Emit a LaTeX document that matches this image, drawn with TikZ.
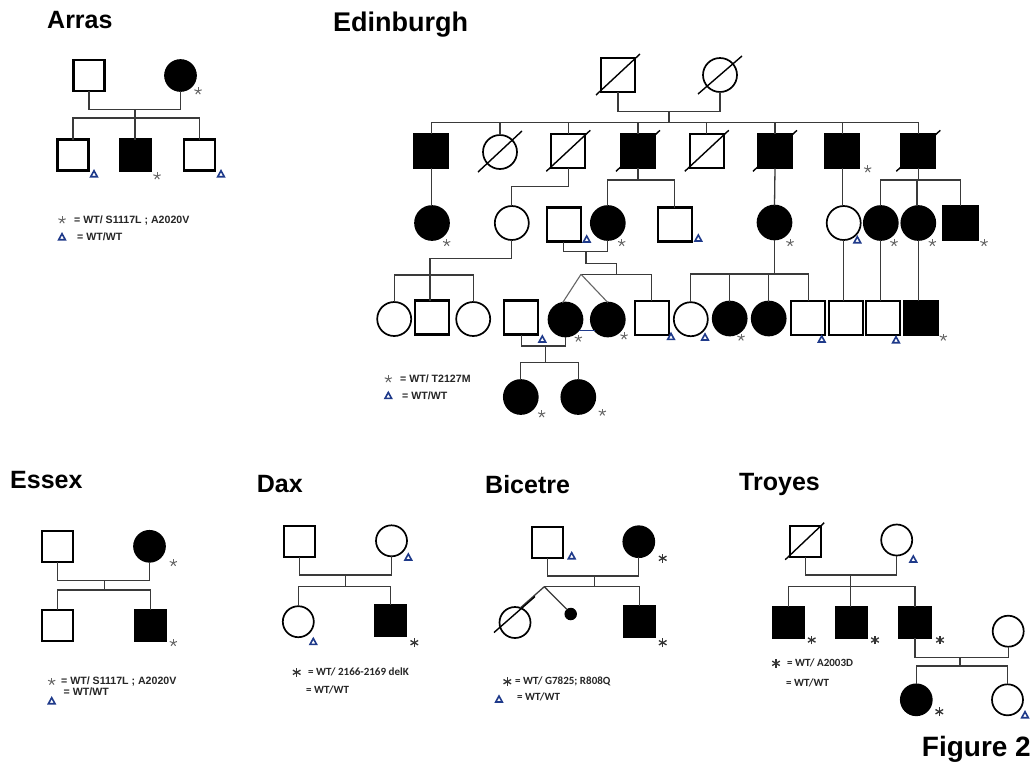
\documentclass[tikz,border=0pt]{standalone}
\usepackage{fontspec}
\setmainfont{Liberation Sans}
\newfontfamily\calfont{Carlito}
\usetikzlibrary{calc}
\definecolor{navy}{HTML}{1F3A8A}
\definecolor{connc}{HTML}{3A3A3A}
\begin{document}
\begin{tikzpicture}[x=1pt,y=-1pt,
  sq/.style={rectangle, draw=black, line width=2.3pt, minimum size=31pt, inner sep=0pt, outer sep=0pt},
  ci/.style={circle, draw=black, line width=1.7pt, minimum size=31pt, inner sep=0pt, outer sep=0pt},
  aff/.style={fill=black},
  big/.style={minimum size=34pt},
  ln/.style={draw=connc, line width=1.3pt},
  slash/.style={draw=black, line width=1.4pt},
  twin/.style={draw=black!60, line width=1.1pt},
  title/.style={font=\fontsize{25}{30}\selectfont\bfseries, anchor=base west, inner sep=0pt},
  leg/.style={font=\fontsize{10.6}{12}\selectfont\bfseries, anchor=west, inner sep=0pt, text=black!85},
  legc/.style={font=\calfont\fontsize{11}{13}\selectfont\bfseries, anchor=west, inner sep=0pt, text=black!85},
  tri/.pic={\draw[navy, line width=1.6pt, line join=miter] (-3.3,2.7) -- (3.3,2.7) -- (0,-3.3) -- cycle;},
  ast/.pic={\foreach \a in {-90,-18,54,126,198}{\draw[black!60, line width=1pt] (0,0) -- (\a:3.8);}},
  astb/.pic={\foreach \a in {90,30,150}{\draw[black!80, line width=1.3pt] (\a:4.4) -- (\a+180:4.4);}},
]
\fill[white] (0,0) rectangle (1031,772);
\useasboundingbox (0,0) rectangle (1031,772);

% ================= Arras =================
\node[title] (tA) at (47,28) {Arras};
\node[sq] (a1) at (89,75.5) {};
\node[ci,aff] (a2) at (180.5,75.5) {};
\coordinate (am) at (135,109.5);
\coordinate (as) at (135,118);
\node[sq] (a3) at (73,155) {};
\node[sq,aff] (a4) at (135.5,155) {};
\node[sq] (a5) at (199.5,155) {};
\draw[ln] (a1.south) |- (am) -| (a2.south);
\draw[ln] (am) -- (as);
\draw[ln] (a3.north) |- (as) -| (a5.north);
\draw[ln] (as) -- (as |- a4.north);
\pic at (198,91) {ast};
\pic at (94,174) {tri};
\pic at (157,176) {ast};
\pic at (221,174) {tri};
\pic at (62,220) {ast};
\node[leg] (la1) at (74,220) {= WT/ S1117L ; A2020V};
\pic at (62,237) {tri};
\node[leg] (la2) at (77,237) {= WT/WT};

% ================= Edinburgh =================
\node[title, font=\fontsize{27}{32}\selectfont\bfseries] (tE) at (333,31) {Edinburgh};
\node[sq,big] (e1) at (618,75) {};
\node[ci,big] (e2) at (720,75) {};
\draw[slash] ($(e1)+(-22,20)$) -- ($(e1)+(22,-21)$);
\draw[slash] ($(e2)+(-22,19)$) -- ($(e2)+(22,-19)$);
\coordinate (em) at (669,111.7);
\coordinate (es) at (669,122.7);
\draw[ln] (e1.south) |- (em) -| (e2.south);
\draw[ln] (em) -- (es);

% generation 2
\node[sq,big,aff] (g1) at (431.3,151.3) {};
\node[ci,big] (g2) at (500,152) {};
\node[sq,big] (g3) at (568.3,151.3) {};
\node[sq,big,aff] (g4) at (638,151.3) {};
\node[sq,big] (g5) at (706.8,151.3) {};
\node[sq,big,aff] (g6) at (775,151.3) {};
\node[sq,big,aff] (g7) at (842.3,151.3) {};
\node[sq,big,aff] (g8) at (918.3,151.3) {};
\foreach \n in {g2,g3,g4,g5,g6,g8}{\draw[slash] ($(\n)+(-22,20)$) -- ($(\n)+(22,-21)$);}
\draw[ln] (g1.north) |- (es) -| (g8.north);
\foreach \n in {g2,g3,g4,g5,g6,g7}{\draw[ln] (\n.north) -- (\n.north |- es);}
\pic at (867.7,169) {ast};

% generation 3
\node[ci,big,aff] (h1) at (432,223) {};
\node[ci,big] (h2) at (511.8,223) {};
\node[sq,big] (h3) at (563.8,224.5) {};
\node[ci,big,aff] (h4) at (607.8,223) {};
\node[sq,big] (h5) at (674.8,224.5) {};
\node[ci,big,aff] (h6) at (774.5,222.5) {};
\node[ci,big] (h7) at (843.7,223) {};
\node[ci,big,aff] (h8) at (880.8,223) {};
\node[ci,big,aff] (h9) at (918.3,223) {};
\node[sq,big,aff] (h10) at (960.5,222.7) {};
\draw[ln] (g1.south) -- (g1.south |- h1.north);
\coordinate (k1) at (511.8,186.7);
\draw[ln] (g3.south) |- (k1) -- (h2.north);
\coordinate (k2) at (638,180);
\draw[ln] (g4.south) -- (k2);
\draw[ln] (h4.north) |- (k2) -| (h5.north);
\draw[ln] (g6.south) -- (h6.north);
\draw[ln] (g7.south) -- (g7.south |- h7.north);
\coordinate (k3) at (917,180);
\draw[ln] (g8.south) -- (g8.south |- k3);
\draw[ln] (h8.north) |- (k3) -| (h10.north);
\draw[ln] (k3) -- (k3 |- h9.north);
\pic at (446.7,242.7) {ast};
\pic at (586.7,239.3) {tri};
\pic at (621.7,242.7) {ast};
\pic at (698.3,238.3) {tri};
\pic at (790,242.7) {ast};
\pic at (857.3,240) {tri};
\pic at (894,242.7) {ast};
\pic at (932.3,242.7) {ast};
\pic at (984,242.7) {ast};

% generation 4
\node[ci,big] (i0a) at (394.2,319) {};
\node[sq,big] (i0b) at (431.7,317.5) {};
\node[ci,big] (i0c) at (473.2,319) {};
\node[sq,big] (i1) at (521.2,317.5) {};
\node[ci,big,aff] (i2) at (565.5,319.5) {};
\node[ci,big,aff] (i3) at (607.8,319.5) {};
\node[sq,big] (i4) at (651.7,318) {};
\node[ci,big] (i5) at (690.8,319.2) {};
\node[ci,big,aff] (i6) at (729.7,318.5) {};
\node[ci,big,aff] (i7) at (768.7,318.5) {};
\node[sq,big] (i8) at (808.2,317.8) {};
\node[sq,big] (i9) at (845.8,317.8) {};
\node[sq,big] (i10) at (883,317.8) {};
\node[sq,big,aff] (i11) at (920.8,317.8) {};
% from h2
\coordinate (k4) at (430,258.3);
\coordinate (k5) at (430,275);
\draw[ln] (h2.south) |- (k4) -- (k5);
\draw[ln] (i0a.north) |- (k5) -| (i0c.north);
\draw[ln] (k5) -- (k5 |- i0b.north);
% from h3 x h4
\coordinate (m1) at (586,251.7);
\coordinate (m1b) at (616.7,263.3);
\coordinate (tw) at (581,274.3);
\draw[ln] (h3.south) |- (m1) -| (h4.south);
\draw[ln] (m1) |- (m1b) -- (m1b |- tw);
\draw[ln] (tw) -| (i4.north);
\draw[twin] (tw) -- (i2.100);
\draw[twin] (tw) -- (i3.north);
\draw[navy, line width=1.2pt] (i2.-40) -- (i3.220);
% from h6
\coordinate (k6) at (774.5,274);
\draw[ln] (h6.south) -- (k6);
\draw[ln] (i5.north) |- (k6) -| (i8.north);
\draw[ln] (i6.north) -- (i6.north |- k6);
\draw[ln] (i7.north) -- (i7.north |- k6);
\draw[ln] (h7.south) -- (h7.south |- i9.north);
\draw[ln] (h8.south) -- (h8.south |- i10.north);
\draw[ln] (h9.south) -- (h9.south |- i11.north);
\pic at (542.3,339.3) {tri};
\pic at (578.3,338.3) {ast};
\pic at (624,336) {ast};
\pic at (671,336.7) {tri};
\pic at (705,337.3) {tri};
\pic at (741,337.3) {ast};
\pic at (821.7,339.3) {tri};
\pic at (896,340) {tri};
\pic at (943.3,337.3) {ast};

% generation 5
\node[ci,big,aff] (j1) at (520.8,397) {};
\node[ci,big,aff] (j2) at (578.3,397) {};
\coordinate (m2) at (545.7,346);
\coordinate (k7) at (545.7,362.7);
\draw[ln] (i1.south) |- (m2) -| (i2.south);
\draw[ln] (m2) -- (k7);
\draw[ln] (j1.north) |- (k7) -| (j2.north);
\pic at (541.7,414) {ast};
\pic at (602.3,412.3) {ast};

\pic at (388.3,379) {ast};
\node[leg] (le1) at (400,379) {= WT/ T2127M};
\pic at (388.3,395.7) {tri};
\node[leg] (le2) at (402,395.7) {= WT/WT};

% ================= Essex =================
\node[title] (tS) at (10,488) {Essex};
\node[sq] (s1) at (57.5,546.7) {};
\node[ci,aff] (s2) at (149.5,546.3) {};
\coordinate (sm) at (104.3,580.7);
\coordinate (ss) at (104.3,590);
\node[sq] (s3) at (57.5,625.2) {};
\node[sq,aff] (s4) at (150.8,625.2) {};
\draw[ln] (s1.south) |- (sm) -| (s2.south);
\draw[ln] (sm) -- (ss);
\draw[ln] (s3.north) |- (ss) -| (s4.north);
\pic at (173.3,562.7) {ast};
\pic at (173.3,642.7) {ast};
\pic at (51.7,681.5) {ast};
\node[leg] (ls1) at (61,681.5) {= WT/ S1117L ; A2020V};
\node[leg] (ls2) at (63.5,692) {= WT/WT};
\pic at (51.7,701) {tri};

% ================= Dax =================
\node[title] (tD) at (256.7,492) {Dax};
\node[sq] (d1) at (299.8,541.7) {};
\node[ci] (d2) at (391.5,540.8) {};
\coordinate (dm) at (345.7,575);
\coordinate (ds) at (345.7,586.7);
\node[ci] (d3) at (298.3,621.7) {};
\node[sq,aff] (d4) at (390.8,620.5) {};
\draw[ln] (d1.south) |- (dm) -| (d2.south);
\draw[ln] (dm) -- (ds);
\draw[ln] (d3.north) |- (ds) -| (d4.north);
\pic at (408.3,557.3) {tri};
\pic at (313.3,641.7) {tri};
\pic at (414.3,642.7) {astb};
\pic at (296.7,672.3) {astb};
\node[legc] (ld1) at (308,672.3) {= WT/ 2166-2169 delK};
\node[legc] (ld2) at (306,690) {= WT/WT};

% ================= Bicetre =================
\node[title] (tB) at (485,493) {Bicetre};
\node[sq] (b1) at (547.5,542.5) {};
\node[ci,aff] (b2) at (638.8,541.7) {};
\coordinate (bm) at (594.3,576);
\coordinate (bs) at (594.3,586.7);
\coordinate (bap) at (544.3,586.7);
\node[ci] (b3) at (515,622.5) {};
\node[circle, fill=black, minimum size=12.5pt, inner sep=0pt] (b4) at (570.7,614) {};
\node[sq,aff] (b5) at (639.3,621.7) {};
\draw[ln] (b1.south) |- (bm) -| (b2.south);
\draw[ln] (bm) -- (bs);
\draw[ln] (bap) -- (bs) -| (b5.north);
\draw[ln] (bap) -- (b3.70);
\draw[ln] (bap) -- (b4.130);
\draw[slash] ($(b3)+(-21,10)$) -- ($(b3)+(20,-26)$);
\pic at (571.7,556) {tri};
\pic at (662.7,558.3) {astb};
\pic at (662.7,642.7) {astb};
\pic at (507.3,681.7) {astb};
\node[legc] (lb1) at (515,681.7) {= WT/ G7825; R808Q};
\pic at (499,699.3) {tri};
\node[legc] (lb2) at (517,697.3) {= WT/WT};

% ================= Troyes =================
\node[title] (tT) at (739,490) {Troyes};
\node[sq] (t1) at (805.2,541.7) {};
\node[ci] (t2) at (896.7,540) {};
\draw[slash] ($(t1)+(-20,18)$) -- ($(t1)+(19,-19)$);
\coordinate (tm) at (850.7,575);
\coordinate (ts) at (850.7,586.7);
\node[sq,aff] (t3) at (788.3,622.5) {};
\node[sq,aff] (t4) at (851.5,622.5) {};
\node[sq,aff] (t5) at (915,622.5) {};
\node[ci] (t6) at (1008.2,631.2) {};
\draw[ln] (t1.south) |- (tm) -| (t2.south);
\draw[ln] (tm) -- (ts);
\draw[ln] (t3.north) |- (ts) -| (t5.north);
\draw[ln] (ts) -- (ts |- t4.north);
\coordinate (tm2) at (960,657.3);
\coordinate (ts2) at (960,666);
\node[ci,aff] (t7) at (916.3,699.8) {};
\node[ci] (t8) at (1007.5,699.8) {};
\draw[ln] (t5.south) |- (tm2) -| (t6.south);
\draw[ln] (tm2) -- (ts2);
\draw[ln] (t7.north) |- (ts2) -| (t8.north);
\pic at (913.3,559.3) {tri};
\pic at (811.7,640) {astb};
\pic at (875,640) {astb};
\pic at (940,640) {astb};
\pic at (939.3,711.7) {astb};
\pic at (1025,715) {tri};
\pic at (776,663.3) {astb};
\node[legc] (lt1) at (787,663.3) {= WT/ A2003D};
\node[legc] (lt2) at (786,682.7) {= WT/WT};

\node[title, font=\fontsize{28}{32}\selectfont\bfseries] (fig) at (921.7,756.7) {Figure 2};
\end{tikzpicture}
\end{document}
